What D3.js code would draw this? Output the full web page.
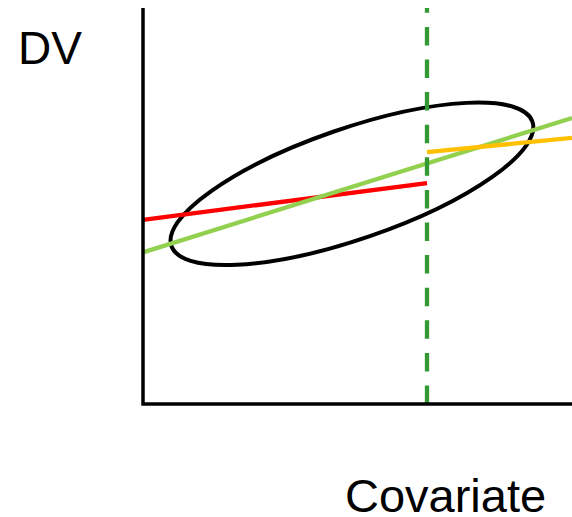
<!DOCTYPE html>
<html>
<head>
<meta charset="utf-8">
<script src="https://cdn.jsdelivr.net/npm/d3@7"></script>
<style>
  html, body { margin: 0; padding: 0; background: #fff; }
  svg { display: block; }
  text { font-family: "Liberation Sans", Arial, sans-serif; fill: #000; }
</style>
</head>
<body>
<div id="chart"></div>
<script>
// ── Data (arbitrary covariate / DV units) ───────────────────────────────────
const xDomain = [0, 10];
const yDomain = [0, 10];
const cutoff = 6.62;                       // dashed vertical split point

// regression segments: [x, y] endpoints
const redLine    = [[0, 4.65], [6.62, 5.58]];
const greenLine  = [[0, 3.83], [10, 7.22]];
const orangeLine = [[6.62, 6.36], [10, 6.72]];

// ellipse: centre, semi-axes (in x units) and tilt (deg, counter-clockwise)
const ellipseCentre = [4.87, 5.56];
const ellipseRadii  = [4.45, 1.29];
const ellipseTilt   = 19;

const labels = { y: 'DV', x: 'Covariate' };

// ── Layout ──────────────────────────────────────────────────────────────────
const W = 572, H = 517;
const M = { top: 8, right: 0, bottom: 113, left: 143 };

const x = d3.scaleLinear().domain(xDomain).range([M.left, W - M.right]);
const y = d3.scaleLinear().domain(yDomain).range([H - M.bottom, M.top]);

const svg = d3.select('#chart').append('svg')
  .attr('width', W).attr('height', H);

// ── Ellipse ─────────────────────────────────────────────────────────────────
svg.append('ellipse')
  .attr('cx', 0).attr('cy', 0)
  .attr('rx', x(ellipseRadii[0]) - x(0))
  .attr('ry', x(ellipseRadii[1]) - x(0))
  .attr('transform', `translate(${x(ellipseCentre[0])},${y(ellipseCentre[1])}) rotate(${-ellipseTilt})`)
  .attr('fill', 'none').attr('stroke', '#000').attr('stroke-width', 4);

// ── Regression lines ────────────────────────────────────────────────────────
const line = d3.line().x(d => x(d[0])).y(d => y(d[1]));

[[redLine, '#ff0000'], [greenLine, '#92d050'], [orangeLine, '#ffc000']]
  .forEach(([pts, col]) => svg.append('path')
    .attr('d', line(pts))
    .attr('fill', 'none').attr('stroke', col).attr('stroke-width', 4.3));

// ── Cutoff (dashed, drawn bottom-up so the full dash sits on the axis) ─────
svg.append('line')
  .attr('x1', x(cutoff)).attr('x2', x(cutoff))
  .attr('y1', y(yDomain[0])).attr('y2', y(yDomain[1]))
  .attr('stroke', '#339933').attr('stroke-width', 4.3)
  .attr('stroke-dasharray', '18.5,14.1');

// ── Axes (bare L-shape, no ticks) ───────────────────────────────────────────
svg.append('path')
  .attr('d', `M${x(xDomain[0])},${y(yDomain[1])}V${y(yDomain[0])}H${x(xDomain[1])}`)
  .attr('fill', 'none').attr('stroke', '#000').attr('stroke-width', 3.5)
  .attr('stroke-linejoin', 'miter');

// ── Labels ──────────────────────────────────────────────────────────────────
svg.append('text')
  .attr('x', 18).attr('y', 64)
  .attr('font-size', 46)
  .text(labels.y);

svg.append('text')
  .attr('x', 345).attr('y', 512)
  .attr('font-size', 47)
  .text(labels.x);
</script>
</body>
</html>
